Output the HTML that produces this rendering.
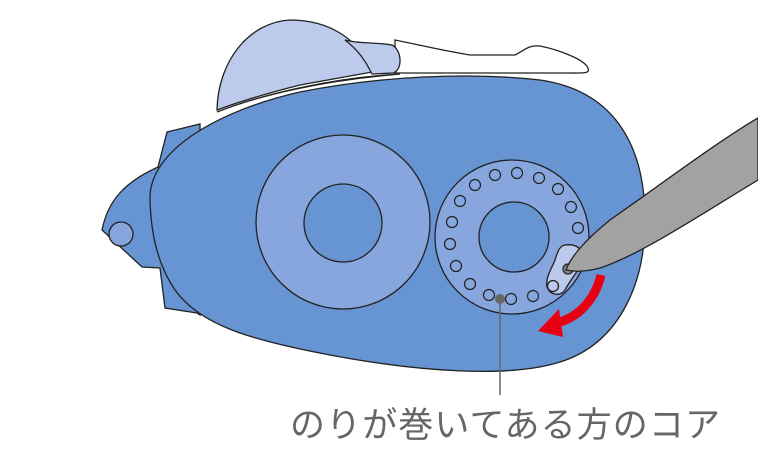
<!DOCTYPE html>
<html><head><meta charset="utf-8"><style>
html,body{margin:0;padding:0;background:#fff;width:758px;height:463px;overflow:hidden}
svg{display:block}
</style></head><body>
<svg width="758" height="463" viewBox="0 0 758 463" xmlns="http://www.w3.org/2000/svg">
<g stroke="#222" stroke-width="1.3">
<path d="M395,40 C420,45 440,50 470,55 L515,55 C525,50 528,45 540,46 C560,50 585,60 588,68 C590,74 585,73 560,73 L395,73 Z" fill="#fff"/>
<path d="M217,110 C218,60 250,22 290,20 C330,20 360,40 372,72 L300,85 C260,95 230,105 217,110 Z" fill="#bccbeb"/>
<path d="M345,40 C360,44 375,42 392,45 C402,50 403,70 393,73 L372,74 C365,60 358,50 345,40 Z" fill="#bccbeb"/>
<path d="M217,112 C260,95 330,78 400,74 L380,76 C320,82 260,95 217,112 Z" fill="#fff"/>
<path d="M167,132 L200,124 L200,315 L197,313 L165,308 L160,268 L142,267 L102,230 C108,200 125,182 158,167 Z" fill="#6794d2"/>
<circle cx="121" cy="234" r="12" fill="#86a6dd"/>
<path d="M150,200 C148,150 220,110 300,92 C380,76 470,72 540,80 C610,90 645,140 645,220 C645,290 615,345 560,362 C510,378 420,372 330,355 C250,340 200,325 175,290 C158,265 151,235 150,200 Z" fill="#6794d2"/>
<circle cx="343" cy="222" r="87" fill="#86a6dd"/>
<circle cx="343" cy="223" r="39" fill="#6794d2"/>
<circle cx="512" cy="237" r="77" fill="#86a6dd"/>
<circle cx="514" cy="237" r="35" fill="#6794d2"/>
<g fill="#86a6dd" stroke-width="1.2">
<circle cx="517" cy="173" r="5.5"/><circle cx="539" cy="178" r="5.5"/><circle cx="558" cy="189" r="5.5"/><circle cx="571" cy="207" r="5.5"/><circle cx="578" cy="228" r="5.5"/>
<circle cx="495" cy="175" r="5.5"/><circle cx="475" cy="185" r="5.5"/><circle cx="460" cy="201" r="5.5"/><circle cx="452" cy="222" r="5.5"/><circle cx="450" cy="244" r="5.5"/><circle cx="456" cy="266" r="5.5"/><circle cx="470" cy="284" r="5.5"/><circle cx="489" cy="295" r="5.5"/><circle cx="511" cy="299" r="5.5"/><circle cx="533" cy="296" r="5.5"/>
</g>
<path d="M565,245 C578,243 586,252 582,262 C578,272 570,280 565,290 C560,297 550,295 547,287 C545,278 552,268 555,260 C558,250 560,246 565,245 Z" fill="#bccbeb"/>
<circle cx="553" cy="286" r="5.5" fill="#bccbeb"/>
<circle cx="568" cy="269" r="5" fill="#888"/>
<path d="M758,118 L758,180 C700,215 640,255 600,268 C585,272 575,272 566,270 C570,258 585,240 610,220 C660,185 720,140 758,118 Z" fill="#a3a2a3"/>
</g>
<path d="M601,275 C595,300 578,318 556,323" fill="none" stroke="#e60012" stroke-width="9"/>
<polygon points="538,331 559,309 563,337" fill="#e60012"/>
<line x1="500" y1="298" x2="500" y2="395" stroke="#666" stroke-width="1.5"/>
<circle cx="500" cy="299" r="5" fill="#666"/>
<text x="290" y="437" font-family="'Liberation Sans','Noto Sans CJK JP',sans-serif" font-size="35" fill="#666" textLength="430">のりが巻いてある方のコア</text>
</svg>
</body></html>
